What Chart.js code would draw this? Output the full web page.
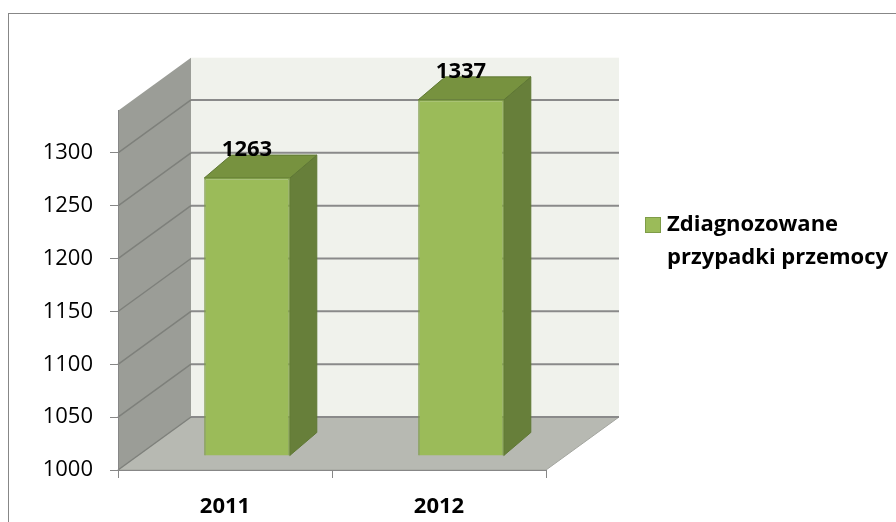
<!DOCTYPE html>
<html lang="pl">
<head>
<meta charset="UTF-8">
<title>Zdiagnozowane przypadki przemocy</title>
<script src="https://cdn.jsdelivr.net/npm/chart.js"></script>
<style>
  html, body { margin: 0; padding: 0; background: #fff; }
</style>
</head>
<body>
<canvas id="chart" width="896" height="522"></canvas>
<script>
const years = ['2011', '2012'];
const cases = [1263, 1337];
const seriesLabel = 'Zdiagnozowane przypadki przemocy';
const yMin = 1000, yMax = 1340, yStep = 50;

// przesunięcia "głębi" dla efektu 3D
const BACK = { dx: 73, dy: -53 };      // tylna ściana względem osi
const BAR = { dx: 22, dy: -14 };       // przednia ściana słupka
const DEPTH = { dx: 27, dy: -23 };     // grubość słupka

const FONT = "'Open Sans', sans-serif";

function poly(ctx, pts) {
    ctx.beginPath();
    ctx.moveTo(pts[0][0], pts[0][1]);
    for (let i = 1; i < pts.length; i++) ctx.lineTo(pts[i][0], pts[i][1]);
    ctx.closePath();
}

function line(ctx, x1, y1, x2, y2) {
    ctx.beginPath();
    ctx.moveTo(x1, y1);
    ctx.lineTo(x2, y2);
    ctx.stroke();
}

const threeD = {
    id: 'threeD',
    beforeDraw(chart) {
        const { ctx, chartArea: a, scales: { y } } = chart;
        const yTop = y.getPixelForValue(yMax);
        const yBot = y.getPixelForValue(yMin);
        ctx.save();

        // ramka wykresu
        ctx.strokeStyle = '#878787';
        ctx.lineWidth = 1;
        ctx.strokeRect(8.5, 13.5, 2000, 2000);

        // tylna ściana
        ctx.fillStyle = '#F0F2EC';
        ctx.fillRect(a.left + BACK.dx, yTop + BACK.dy, a.right - a.left, yBot - yTop);

        // lewa ściana
        ctx.fillStyle = '#9B9D97';
        poly(ctx, [[a.left, yTop], [a.left + BACK.dx, yTop + BACK.dy],
                   [a.left + BACK.dx, yBot + BACK.dy], [a.left, yBot]]);
        ctx.fill();

        // podłoga
        ctx.fillStyle = '#B7B9B2';
        ctx.strokeStyle = '#A3A59F';
        poly(ctx, [[a.left, yBot], [a.left + BACK.dx, yBot + BACK.dy],
                   [a.right + BACK.dx, yBot + BACK.dy], [a.right, yBot]]);
        ctx.fill();
        ctx.stroke();

        // linie siatki
        y.ticks.forEach(t => {
            const py = y.getPixelForValue(t.value);
            ctx.strokeStyle = '#8A8A8A';
            ctx.lineWidth = 2;
            line(ctx, a.left + BACK.dx, py + BACK.dy, a.right + BACK.dx, py + BACK.dy);
            ctx.strokeStyle = '#7E807B';
            ctx.lineWidth = 1.5;
            line(ctx, a.left, py, a.left + BACK.dx, py + BACK.dy);
        });
        ctx.restore();
    },
    beforeDatasetsDraw(chart) {
        const ctx = chart.ctx;
        ctx.save();
        ctx.translate(BAR.dx, BAR.dy);
        chart.getDatasetMeta(0).data.forEach(bar => {
            const { x, y, base, width } = bar.getProps(['x', 'y', 'base', 'width'], true);
            const l = x - width / 2, r = x + width / 2;
            ctx.lineWidth = 1;
            ctx.strokeStyle = '#5F7834';
            ctx.fillStyle = '#677F3A';
            poly(ctx, [[r, y], [r + DEPTH.dx, y + DEPTH.dy], [r + DEPTH.dx, base + DEPTH.dy], [r, base]]);
            ctx.fill();
            ctx.stroke();
            ctx.fillStyle = '#77923F';
            poly(ctx, [[l, y], [l + DEPTH.dx, y + DEPTH.dy], [r + DEPTH.dx, y + DEPTH.dy], [r, y]]);
            ctx.fill();
            ctx.stroke();
        });
    },
    afterDatasetsDraw(chart) {
        const ctx = chart.ctx;
        // nadal przesunięte do płaszczyzny słupków
        ctx.fillStyle = '#000';
        ctx.font = 'bold 22px ' + FONT;
        ctx.textAlign = 'center';
        ctx.textBaseline = 'middle';
        chart.getDatasetMeta(0).data.forEach((bar, i) => {
            ctx.fillText(String(cases[i]), bar.x, bar.y - 28);
        });
        ctx.restore();
    },
    afterDraw(chart) {
        const ctx = chart.ctx;
        const ds = chart.data.datasets[0];
        ctx.save();
        ctx.fillStyle = ds.backgroundColor;
        ctx.strokeStyle = '#7E9C48';
        ctx.lineWidth = 1;
        ctx.fillRect(645, 217, 16, 16);
        ctx.strokeRect(645.5, 217.5, 15, 15);

        ctx.fillStyle = '#000';
        ctx.font = 'bold 22px ' + FONT;
        ctx.textAlign = 'left';
        ctx.textBaseline = 'middle';
        // zawijanie tekstu legendy
        const words = ds.label.split(' ');
        const lines = [];
        let cur = '';
        words.forEach(w => {
            const test = cur ? cur + ' ' + w : w;
            if (cur && ctx.measureText(test).width > 228) {
                lines.push(cur);
                cur = w;
            } else {
                cur = test;
            }
        });
        lines.push(cur);
        lines.forEach((t, i) => ctx.fillText(t, 667, 225 + i * 33));
        ctx.restore();
    }
};

new Chart(document.getElementById('chart'), {
    type: 'bar',
    data: {
        labels: years,
        datasets: [{
            label: seriesLabel,
            data: cases,
            base: yMin,
            backgroundColor: '#9BBB59',
            borderColor: '#7E9C48',
            borderWidth: 1.5,
            barPercentage: 0.4,
            categoryPercentage: 1
        }]
    },
    options: {
        responsive: false,
        animation: false,
        events: [],
        layout: { padding: { left: 0, right: 350, top: 110.7, bottom: 0 } },
        plugins: {
            legend: { display: false },
            tooltip: { enabled: false }
        },
        scales: {
            x: {
                afterFit: s => { s.height = 52; },
                grid: {
                    display: true,
                    drawOnChartArea: false,
                    tickLength: 8,
                    color: '#878787'
                },
                border: { display: true, color: '#878787', width: 1 },
                ticks: {
                    color: '#000',
                    padding: 16,
                    font: { family: FONT, size: 22, weight: 'bold' }
                }
            },
            y: {
                min: yMin,
                max: yMax,
                afterFit: s => { s.width = 118; },
                afterBuildTicks: s => { s.ticks = s.ticks.filter(t => t.value % yStep === 0); },
                grid: {
                    display: true,
                    drawOnChartArea: false,
                    tickLength: 8,
                    color: '#878787'
                },
                border: { display: true, color: '#878787', width: 1 },
                ticks: {
                    stepSize: yStep,
                    color: '#000',
                    padding: 17,
                    font: { family: FONT, size: 22 },
                    callback: v => String(v)
                }
            }
        }
    },
    plugins: [threeD]
});
</script>
</body>
</html>
